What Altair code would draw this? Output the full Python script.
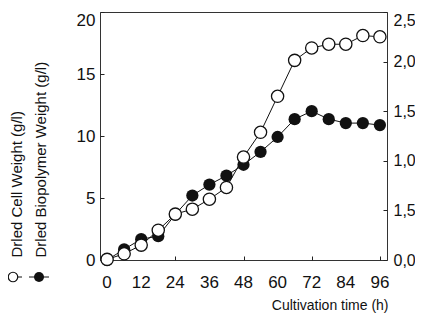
import altair as alt
import pandas as pd

# Cultivation time (h)
hours = [0, 6, 12, 18, 24, 30, 36, 42, 48, 54, 60, 66, 72, 78, 84, 90, 96]
# Dried cell weight (g/l), left axis
cell_weight = [0.05, 0.5, 1.2, 2.4, 3.7, 4.1, 4.9, 5.85, 8.3, 10.3, 13.2, 16.1, 17.1, 17.4, 17.4, 18.1, 18.0]
# Dried biopolymer weight (g/l), right axis
biopolymer = [0.0, 0.108, 0.21, 0.24, 0.46, 0.65, 0.76, 0.85, 0.96, 1.09, 1.24, 1.42, 1.5, 1.42, 1.38, 1.38, 1.36]

x_ticks = [0, 12, 24, 36, 48, 60, 72, 84, 96]
left_ticks = [0, 5, 10, 15, 20]
right_ticks = [0, 0.5, 1.0, 1.5, 2.0, 2.5]
right_labels = ["0,0", "1,5", "1,0", "1,5", "2,0", "2,5"]

left_title = ["Drled Cell Weight (g/l)", "Drled Biopolymer Weight (g/l)"]
x_title = "Cultivation time (h)"

FONT = "Liberation Sans"

df = pd.DataFrame({"t": hours, "cell": cell_weight, "bio": biopolymer})
tick_df = pd.DataFrame({"t": x_ticks})

label_map = "{" + ",".join(f"'{v:g}':'{l}'" for v, l in zip(right_ticks, right_labels)) + "}"

x_scale = alt.Scale(domain=[-2.5, 98.5], nice=False, zero=False)
x_enc = alt.X(
    "t:Q",
    scale=x_scale,
    axis=alt.Axis(
        values=x_ticks, title=x_title, offset=-4, tickSize=4, domain=False,
        labels=False,
        titleFont=FONT, titleFontSize=14, titleFontWeight="normal", titleColor="#111",
        titleAnchor="end", titleAlign="right", titleX=288, titleY=53, titleBaseline="alphabetic",
        tickColor="#222", grid=False,
    ),
)
x_plain = alt.X("t:Q", scale=x_scale)

y_left = alt.Y(
    "cell:Q",
    scale=alt.Scale(domain=[0, 20], nice=False),
    axis=alt.Axis(
        orient="left", values=left_ticks, title=left_title, offset=-4, tickSize=4, domain=False,
        labelPadding=5, labelFontSize=17, labelFont=FONT, labelColor="#111",
        labelOverlap=False, labelFlush=False,
        labelBaseline={"condition": {"test": "datum.value == 20", "value": "top"}, "value": "middle"},
        titleFont=FONT, titleFontSize=15, titleFontWeight="normal", titleColor="#111",
        titleAngle=270, titleAlign="left", titleBaseline="top", titleX=-95, titleY=245,
        titleLineHeight=24, tickColor="#222", grid=False,
    ),
)

y_right = alt.Y(
    "bio:Q",
    scale=alt.Scale(domain=[0, 2.5], nice=False),
    axis=alt.Axis(
        orient="right", values=right_ticks, title=None, offset=-4, tickSize=4, domain=False,
        labelPadding=6, labelFontSize=16, labelFont=FONT, labelColor="#111",
        labelOverlap=False, labelFlush=False,
        labelBaseline={"condition": {"test": "datum.value == 2.5", "value": "top"}, "value": "middle"},
        labelExpr=label_map + "[toString(datum.value)]",
        tickColor="#222", grid=False,
    ),
)

base = alt.Chart(df)

bio_line = base.mark_line(color="#111", strokeWidth=1).encode(x=x_enc, y=y_right)
bio_pts = base.mark_point(shape="circle", filled=True, color="#111", size=150, opacity=1).encode(x=x_plain, y="bio:Q")
bio_layer = alt.layer(bio_line, bio_pts)

cell_line = base.mark_line(color="#111", strokeWidth=1).encode(x=x_plain, y=y_left)
cell_pts = base.mark_point(shape="circle", filled=True, fill="white", stroke="#111", strokeWidth=1.3, size=150, opacity=1).encode(x=x_plain, y="cell:Q")
cell_layer = alt.layer(cell_line, cell_pts)

x_labels = alt.Chart(tick_df).mark_text(
    font=FONT, fontSize=17, color="#111", baseline="middle", align="center"
).encode(x=x_plain, y=alt.value(271), text=alt.Text("t:Q"))

leg_df = pd.DataFrame({"k": [0]})
leg = alt.Chart(leg_df)
leg_rule1 = leg.mark_rule(color="#111", strokeWidth=1).encode(x=alt.value(-96), x2=alt.value(-78), y=alt.value(265))
leg_rule2 = leg.mark_rule(color="#111", strokeWidth=1).encode(x=alt.value(-71), x2=alt.value(-51), y=alt.value(265))
leg_open = leg.mark_point(shape="circle", filled=True, fill="white", stroke="#111", strokeWidth=1.2, size=90, opacity=1).encode(x=alt.value(-87), y=alt.value(265))
leg_fill = leg.mark_point(shape="circle", filled=True, color="#111", size=100, opacity=1).encode(x=alt.value(-61), y=alt.value(265))
legend_layer = alt.layer(leg_rule1, leg_rule2, leg_open, leg_fill)

chart = (
    alt.layer(bio_layer, cell_layer, x_labels, legend_layer)
    .resolve_scale(y="independent")
    .properties(
        width=287, height=248, autosize="none",
        padding={"left": 92, "top": 4, "right": 28, "bottom": 58},
        background="white",
    )
    .configure_axis(labelOverlap=False)
    .configure_view(stroke="#333", strokeWidth=1)
)

chart.save("out.html", embed_options={"renderer": "svg", "actions": False})
